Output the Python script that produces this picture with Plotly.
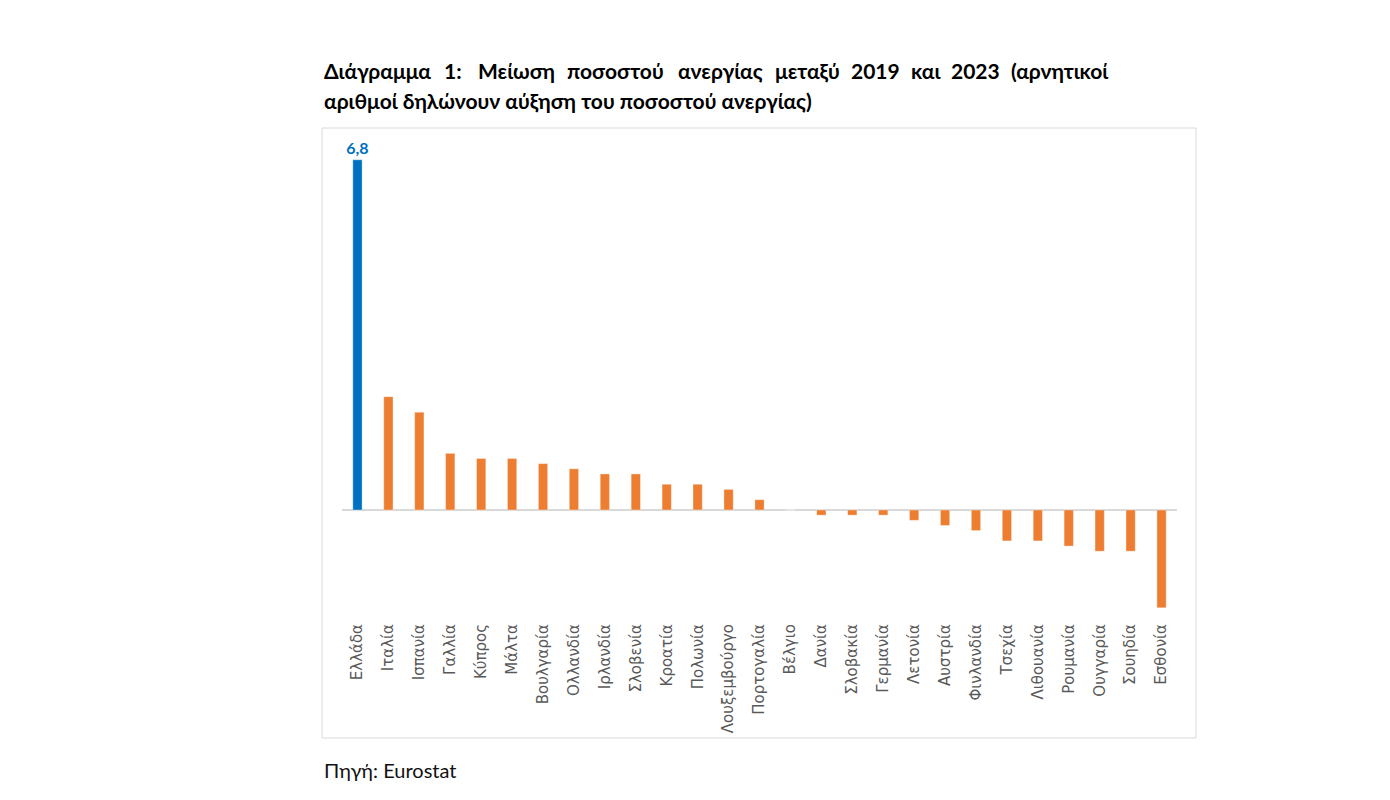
import plotly.graph_objects as go

countries = ["Ελλάδα", "Ιταλία", "Ισπανία", "Γαλλία", "Κύπρος", "Μάλτα", "Βουλγαρία",
             "Ολλανδία", "Ιρλανδία", "Σλοβενία", "Κροατία", "Πολωνία", "Λουξεμβούργο",
             "Πορτογαλία", "Βέλγιο", "Δανία", "Σλοβακία", "Γερμανία", "Λετονία", "Αυστρία",
             "Φινλανδία", "Τσεχία", "Λιθουανία", "Ρουμανία", "Ουγγαρία", "Σουηδία", "Εσθονία"]
values = [6.8, 2.2, 1.9, 1.1, 1.0, 1.0, 0.9, 0.8, 0.7, 0.7, 0.5, 0.5, 0.4, 0.2, 0.0,
          -0.1, -0.1, -0.1, -0.2, -0.3, -0.4, -0.6, -0.6, -0.7, -0.8, -0.8, -1.9]
title_line1_words = ["Διάγραμμα", "1:", "Μείωση", "ποσοστού", "ανεργίας", "μεταξύ",
                     "2019", "και", "2023", "(αρνητικοί"]
title_line2 = "αριθμοί δηλώνουν αύξηση του ποσοστού ανεργίας)"
source_text = "Πηγή: Eurostat"

highlight = "Ελλάδα"
BLUE = "#0070C0"
ORANGE = "#ED7D31"
colors = [BLUE if c == highlight else ORANGE for c in countries]
texts = [f"{v:.1f}".replace(".", ",") if c == highlight else "" for c, v in zip(countries, values)]

OFF = 8  # default page body margin
W, H = 1390 - 2 * OFF, 800 - 2 * OFF
# plot area in page pixels
L, R, T, B = 342, 1177, 140, 620
ZERO = 510
PX_PER_UNIT = 51.5


def px(x):
    return (x - L) / (R - L)


def py(y):
    return (B - y) / (B - T)


fig = go.Figure()
fig.add_trace(go.Bar(
    x=countries, y=values,
    marker=dict(color=colors, line=dict(width=1, color="rgba(255,255,255,0.35)")),
    width=0.3,
    text=texts, textposition="outside", constraintext="none",
    textfont=dict(color=BLUE, size=16, family="Lato, 'Open Sans', sans-serif", weight="bold"),
    cliponaxis=False,
    hoverinfo="x+y",
))

fig.update_layout(
    width=W, height=H,
    margin=dict(l=L - OFF, r=W - (R - OFF), t=T - OFF, b=H - (B - OFF), pad=0),
    plot_bgcolor="white", paper_bgcolor="white",
    showlegend=False,
    xaxis=dict(tickangle=-90, showgrid=False, showline=False, ticks="",
               tickfont=dict(family="DejaVu Sans", size=15, color="#595959"),
               automargin=False),
    yaxis=dict(range=[-(B - ZERO) / PX_PER_UNIT, (ZERO - T) / PX_PER_UNIT], showgrid=False,
               showticklabels=False, zeroline=True, zerolinecolor="#D9D9D9",
               zerolinewidth=2, showline=False, ticks="", automargin=False),
)

shapes = [dict(type="rect", xref="paper", yref="paper", x0=px(322), x1=px(1196),
               y0=py(738), y1=py(128), line=dict(color="#D9D9D9", width=1),
               fillcolor="rgba(0,0,0,0)", layer="below")]
fig.update_layout(shapes=shapes)

title_font = dict(family="Lato, 'Open Sans', sans-serif", size=21, color="black", weight="bold")
# justified first line (word left edges, page pixels)
word_x = [322, 442, 476, 565, 676, 773, 849, 909, 949, 1009]
anns = []
for w, xpos in zip(title_line1_words, word_x):
    anns.append(dict(text=w, x=px(xpos), y=py(70), xref="paper", yref="paper",
                     xanchor="left", yanchor="middle", showarrow=False, font=title_font))
anns.append(dict(text=title_line2, x=px(322), y=py(100), xref="paper", yref="paper",
                 xanchor="left", yanchor="middle", showarrow=False, font=title_font))
anns.append(dict(text=source_text, x=px(322), y=py(770), xref="paper", yref="paper",
                 xanchor="left", yanchor="middle", showarrow=False,
                 font=dict(family="Lato, 'Open Sans', sans-serif", size=20, color="#111111")))
fig.update_layout(annotations=anns)

fig.write_html("out.html")
